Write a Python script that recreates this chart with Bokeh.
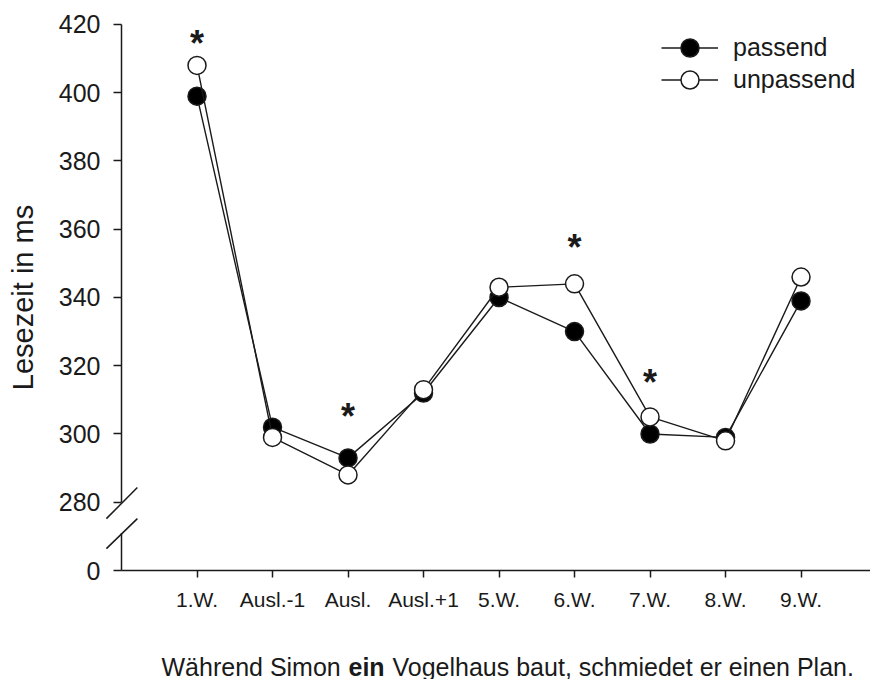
from bokeh.plotting import figure
from bokeh.models import (Range1d, FixedTicker, Legend, LegendItem, Label,
                          Arrow, ColumnDataSource)
from bokeh.core.properties import value
from bokeh.embed import file_html
from bokeh.resources import INLINE

# Reading time per word position (ms)
categories = ["1.W.", "Ausl.-1", "Ausl.", "Ausl.+1", "5.W.", "6.W.", "7.W.", "8.W.", "9.W."]
passend = [399, 302, 293, 312, 340, 330, 300, 299, 339]
unpassend = [408, 299, 288, 313, 343, 344, 305, 298, 346]

# Significant differences, marked with an asterisk
sig_categories = ["1.W.", "Ausl.", "6.W.", "7.W."]
sig_y = [416, 306.5, 356, 316.5]

# Broken y axis: the lowest tick stands for 0
y_ticks = [260, 280, 300, 320, 340, 360, 380, 400, 420]
y_tick_labels = ["0", "280", "300", "320", "340", "360", "380", "400", "420"]

FONT = "Liberation Sans"
INK = "#1a1a1a"

xs = list(range(1, len(categories) + 1))
pos = dict(zip(categories, xs))

src = ColumnDataSource(dict(x=xs, passend=passend, unpassend=unpassend))
sig_src = ColumnDataSource(dict(x=[pos[c] for c in sig_categories], y=sig_y,
                                t=["*"] * len(sig_categories)))

# The frame fills the whole canvas; axes are pinned inside it so that the
# axis break and the sentence underneath can be drawn freely.
X0, X1 = -1.6026, 9.92
Y0, Y1 = 228.06, 427.03
p = figure(width=870, height=679, x_range=Range1d(X0, X1), y_range=Range1d(Y0, Y1),
           output_backend="svg", toolbar_location=None,
           min_border_left=0, min_border_right=0, min_border_top=0, min_border_bottom=0)
p.grid.visible = False
p.outline_line_color = None
p.background_fill_color = "white"
p.border_fill_color = "white"

# x axis
xa = p.xaxis[0]
xa.fixed_location = 260
xa.bounds = (0, X1)
xa.ticker = FixedTicker(ticks=xs)
xa.major_label_overrides = {x: c for x, c in zip(xs, categories)}
xa.major_label_text_font = FONT
xa.major_label_text_font_size = "21px"
xa.major_label_text_color = INK
xa.major_label_standoff = 10
xa.major_tick_out = 7
xa.major_tick_in = 0
xa.minor_tick_out = 0
xa.minor_tick_in = 0
xa.axis_line_width = 1.5
xa.axis_line_color = INK
xa.major_tick_line_width = 1.5
xa.major_tick_line_color = INK

# y axis (line drawn separately so it can carry the break)
ya = p.yaxis[0]
ya.fixed_location = 0
ya.bounds = (260, 420)
ya.ticker = FixedTicker(ticks=y_ticks)
ya.major_label_overrides = {t: l for t, l in zip(y_ticks, y_tick_labels)}
ya.major_label_text_font = FONT
ya.major_label_text_font_size = "25px"
ya.major_label_text_color = INK
ya.major_label_standoff = 13
ya.major_tick_out = 8
ya.major_tick_in = 0
ya.minor_tick_out = 0
ya.minor_tick_in = 0
ya.axis_line_color = None
ya.major_tick_line_width = 1.5
ya.major_tick_line_color = INK
ya.axis_label = "Lesezeit in ms"
ya.axis_label_text_font = FONT
ya.axis_label_text_font_size = "29px"
ya.axis_label_text_font_style = "normal"
ya.axis_label_text_color = INK
ya.axis_label_standoff = 17

# axis line with a break between 0 and 280
BREAK_HI, BREAK_LO = 280, 271
for y0, y1 in [(420, BREAK_HI), (BREAK_LO, 260)]:
    p.add_layout(Arrow(end=None, x_start=0, y_start=y0, x_end=0, y_end=y1,
                       line_width=1.5, line_color=INK))
for y0, y1 in [(275.2, 284.3), (266.4, 275.2)]:
    p.add_layout(Arrow(end=None, x_start=-0.2, y_start=y0, x_end=0.21, y_end=y1,
                       line_width=1.5, line_color=INK))

# series
lp = p.line("x", "passend", source=src, line_color=INK, line_width=1.4)
sp = p.scatter("x", "passend", source=src, size=18, marker="circle",
               fill_color="black", line_color=INK, line_width=1.5)
lu = p.line("x", "unpassend", source=src, line_color=INK, line_width=1.4)
su = p.scatter("x", "unpassend", source=src, size=18, marker="circle",
               fill_color="white", line_color=INK, line_width=1.5)

p.text("x", "y", text="t", source=sig_src, text_font=value(FONT),
       text_font_size="36px", text_font_style="bold", text_color=INK,
       text_align="center", text_baseline="middle", y_offset=5)

# one legend per entry, so the rows can sit closer than the key glyphs are tall
legend_rows = [("passend", [lp, sp], 609.5), ("unpassend", [lu, su], 577.5)]
for label, rends, vy in legend_rows:
    p.add_layout(Legend(items=[LegendItem(label=label, renderers=rends)],
                        location=(661, vy), glyph_width=57, glyph_height=45,
                        padding=0, margin=0, label_standoff=15,
                        label_text_font=FONT, label_text_font_size="25px",
                        label_text_color=INK,
                        border_line_color=None, background_fill_alpha=0))

# sentence below the chart, with the critical word in bold
for x, txt, style in [(161, "Während Simon", "normal"),
                      (348, "ein", "bold"),
                      (392, "Vogelhaus baut, schmiedet er einen Plan.", "normal")]:
    p.add_layout(Label(x=x, y=13, x_units="screen", y_units="screen", text=txt,
                       text_font=FONT, text_font_size="25px", text_font_style=style,
                       text_color=INK, text_baseline="alphabetic"))

open("out.html", "w").write(file_html(p, INLINE))
